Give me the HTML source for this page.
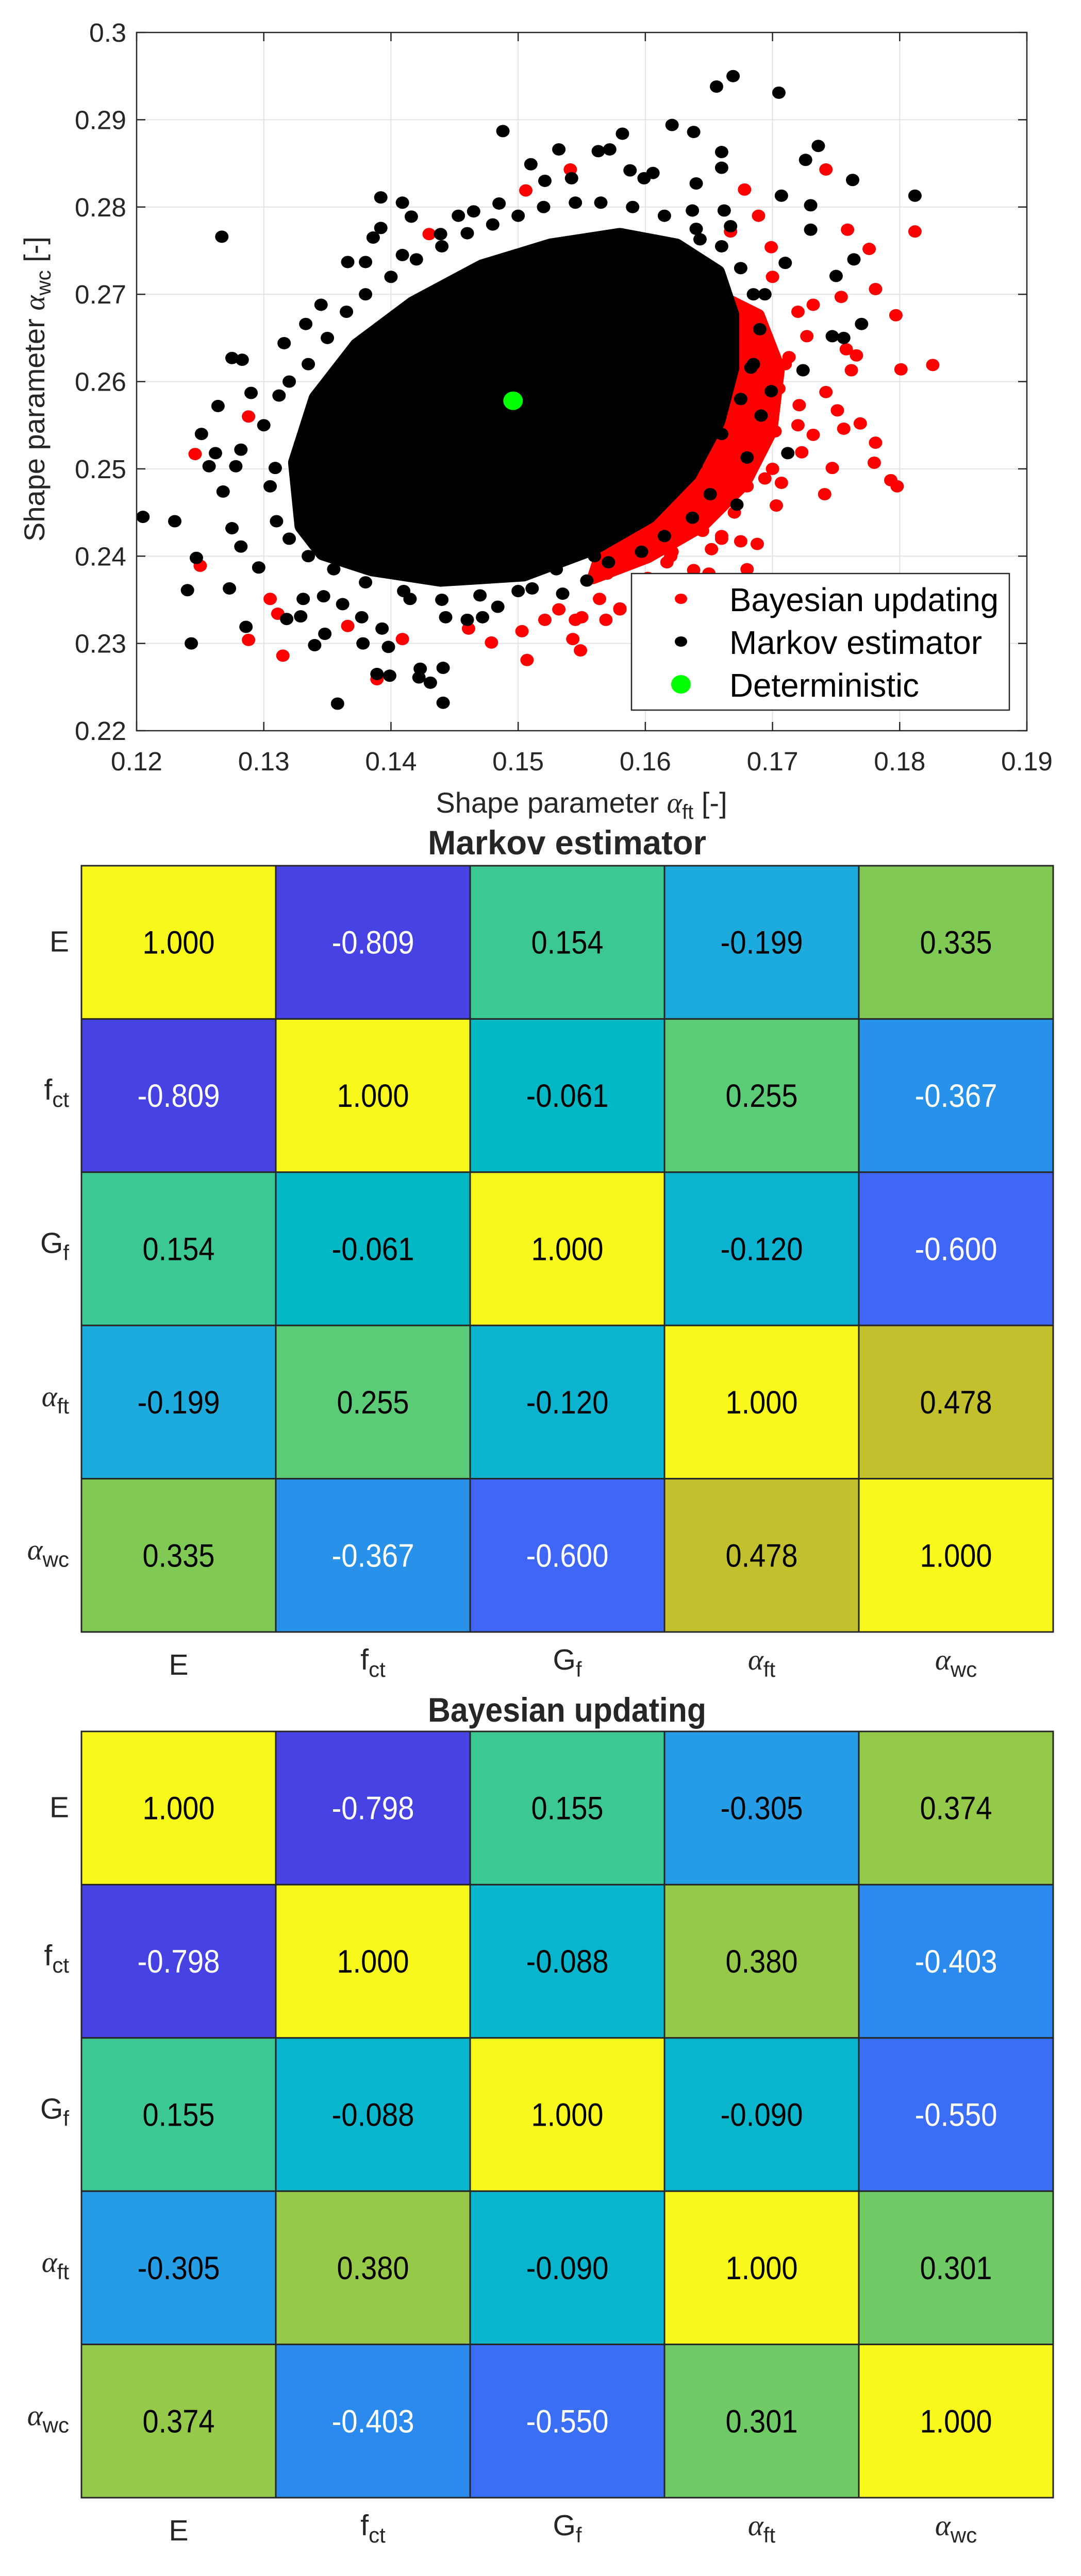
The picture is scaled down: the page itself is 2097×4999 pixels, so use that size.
<!DOCTYPE html>
<html><head><meta charset="utf-8"><style>
html,body{margin:0;padding:0;background:#fff;}
svg{display:block;font-family:"Liberation Sans",sans-serif;}
</style></head><body>
<svg id="fig" width="2097" height="4999" viewBox="0 0 2097 4999" xmlns="http://www.w3.org/2000/svg">
<rect width="2097" height="4999" fill="#fff"/>
<g id="scatter"></g>
<g id="hm1"></g>
<g id="hm2"></g>
</svg>
<script>
const NS="http://www.w3.org/2000/svg";
// ---------- scatter data ----------
const xTicks=[0.12,0.13,0.14,0.15,0.16,0.17,0.18,0.19];
const xTickLabels=["0.12","0.13","0.14","0.15","0.16","0.17","0.18","0.19"];
const yTicks=[0.22,0.23,0.24,0.25,0.26,0.27,0.28,0.29,0.30];
const yTickLabels=["0.22","0.23","0.24","0.25","0.26","0.27","0.28","0.29","0.3"];
const redCoreX=[0.1656,0.1689,0.1705,0.1699,0.1678,0.1645,0.1602,0.1559,0.1600];
const redCoreY=[0.2700,0.2676,0.2616,0.2543,0.2483,0.2435,0.2399,0.2375,0.2560];
const blackCoreX=[0.1331,0.1326,0.1342,0.1374,0.1418,0.1472,0.1526,0.1580,0.1624,0.1656,0.1667,0.1667,0.1656,0.1634,0.1602,0.1559,0.1504,0.1439,0.1385,0.1347];
const blackCoreY=[0.2435,0.2507,0.2580,0.2640,0.2688,0.2730,0.2754,0.2766,0.2754,0.2724,0.2676,0.2616,0.2555,0.2495,0.2447,0.2411,0.2381,0.2375,0.2387,0.2405];
const bayesX=[0.1246,0.1250,0.1288,0.1288,0.1315,0.1305,0.1311,0.1366,0.1389,0.1409,0.1430,0.1479,0.1507,0.1503,0.1543,0.1549,0.1545,0.1564,0.1580,0.1602,0.1638,0.1680,0.1688,0.1675,0.1660,0.1652,0.1645,0.1621,0.1626,0.1703,0.1741,0.1747,0.1780,0.1793,0.1798,0.1781,0.1769,0.1756,0.1732,0.1723,0.1707,0.1694,0.1689,0.1702,0.1721,0.1751,0.1742,0.1762,0.1766,0.1758,0.1801,0.1826,0.1797,0.1781,0.1776,0.1759,0.1812,0.1742,0.1754,0.1732,0.1727,0.1713,0.1705,0.1683,0.1667,0.1659,0.1645,0.1678,0.1667,0.1689,0.1699,0.1541,0.1506,0.1617,0.1607,0.1569,0.1532,0.1521,0.1461,0.162,0.165,0.160,0.158,0.167,0.170,0.172,0.171,0.172,0.170,0.166,0.168,0.163,0.155,0.157];
const bayesY=[0.2517,0.2389,0.2560,0.2304,0.2286,0.2351,0.2334,0.2320,0.2259,0.2305,0.2769,0.2301,0.2281,0.2314,0.2305,0.2292,0.2327,0.2351,0.2339,0.2375,0.2384,0.2385,0.2414,0.2417,0.2423,0.2408,0.2429,0.2405,0.2435,0.2458,0.2471,0.2501,0.2507,0.2487,0.2480,0.2530,0.2552,0.2546,0.2539,0.2519,0.2484,0.2489,0.2525,0.2543,0.2573,0.2567,0.2588,0.2613,0.2630,0.2637,0.2614,0.2619,0.2676,0.2706,0.2752,0.2774,0.2772,0.2843,0.2697,0.2688,0.2652,0.2628,0.2592,0.2567,0.2543,0.2507,0.2483,0.2820,0.2772,0.2790,0.2754,0.2843,0.2819,0.2393,0.2363,0.2327,0.2339,0.2327,0.2317,0.240,0.238,0.236,0.234,0.245,0.250,0.255,0.262,0.268,0.272,0.242,0.248,0.236,0.233,0.238];
const markovX=[0.1205,0.1230,0.1243,0.1240,0.1247,0.1267,0.1264,0.1251,0.1257,0.1262,0.1268,0.1275,0.1283,0.1290,0.1282,0.1278,0.1275,0.1273,0.1286,0.1282,0.1296,0.1316,0.1312,0.1309,0.1318,0.1329,0.1340,0.1348,0.1358,0.1389,0.1399,0.1398,0.1378,0.1423,0.1431,0.1441,0.1441,0.1422,0.1366,0.1380,0.1392,0.1392,0.1409,0.1416,0.1409,0.1386,0.1345,0.1333,0.1488,0.1510,0.1532,0.1563,0.1572,0.1582,0.1621,0.1638,0.1656,0.1669,0.1705,0.1736,0.1726,0.1763,0.1812,0.1707,0.1730,0.1730,0.1764,0.1750,0.1770,0.1756,0.1747,0.1724,0.1712,0.1691,0.1699,0.1680,0.1672,0.1651,0.1637,0.1615,0.1597,0.1571,0.1554,0.1535,0.1511,0.1484,0.1472,0.1460,0.1443,0.1415,0.1393,0.1377,0.1362,0.1347,0.1331,0.1662,0.1683,0.1694,0.1710,0.1667,0.1637,0.1662,0.1643,0.1606,0.1599,0.1588,0.1542,0.1521,0.1485,0.1465,0.1453,0.1439,0.1640,0.1660,0.1660,0.1300,0.1305,0.1310,0.1320,0.1335,0.1350,0.1365,0.1380,0.1400,0.1420,0.1440,0.1460,0.1480,0.1500,0.1520,0.1545,0.1565,0.1590,0.1615,0.1640,0.1660,0.1675,0.1685,0.1690,0.1685,0.1675,0.1660,0.1640,0.1620,0.1590,0.1560,0.1530,0.1500,0.1470,0.1440,0.1410,0.1380,0.1355,0.1335,0.1320];
const markovY=[0.2445,0.2440,0.2300,0.2361,0.2398,0.2766,0.2572,0.2540,0.2503,0.2518,0.2474,0.2627,0.2625,0.2587,0.2522,0.2503,0.2432,0.2363,0.2319,0.2411,0.2387,0.2644,0.2584,0.2501,0.2328,0.2331,0.2298,0.2311,0.2231,0.2265,0.2263,0.2296,0.2300,0.2271,0.2255,0.2232,0.2272,0.2261,0.2737,0.2737,0.2776,0.2811,0.2805,0.2789,0.2745,0.2765,0.2688,0.2666,0.2887,0.2849,0.2866,0.2864,0.2866,0.2884,0.2894,0.2886,0.2938,0.2950,0.2931,0.2870,0.2854,0.2831,0.2813,0.2813,0.2802,0.2774,0.2740,0.2721,0.2666,0.2650,0.2652,0.2613,0.2518,0.2561,0.2589,0.2513,0.2459,0.2471,0.2444,0.2423,0.2405,0.2393,0.2372,0.2357,0.2363,0.2342,0.2330,0.2327,0.2330,0.2351,0.2317,0.2330,0.2345,0.2354,0.2351,0.2640,0.2616,0.2700,0.2736,0.2778,0.2796,0.2796,0.2763,0.2839,0.2833,0.2842,0.2833,0.2830,0.2804,0.2795,0.2790,0.2769,0.2827,0.2845,0.2863,0.2550,0.2480,0.2440,0.2600,0.2620,0.2650,0.2680,0.2700,0.2720,0.2740,0.2755,0.2770,0.2780,0.2790,0.2800,0.2805,0.2805,0.2800,0.2790,0.2775,0.2755,0.2730,0.2700,0.2660,0.2620,0.2580,0.2540,0.2505,0.2470,0.2440,0.2400,0.2385,0.2360,0.2355,0.2350,0.2360,0.2370,0.2385,0.2400,0.2420];
const detX=[0.1496];
const detY=[0.2578];
// ---------- heatmap data ----------
const hmLabels=["E","f|ct","G|f","α|ft","α|wc"];
const markovCorr=[
 [1.000,-0.809,0.154,-0.199,0.335],
 [-0.809,1.000,-0.061,0.255,-0.367],
 [0.154,-0.061,1.000,-0.120,-0.600],
 [-0.199,0.255,-0.120,1.000,0.478],
 [0.335,-0.367,-0.600,0.478,1.000]];
const bayesCorr=[
 [1.000,-0.798,0.155,-0.305,0.374],
 [-0.798,1.000,-0.088,0.380,-0.403],
 [0.155,-0.088,1.000,-0.090,-0.550],
 [-0.305,0.380,-0.090,1.000,0.301],
 [0.374,-0.403,-0.550,0.301,1.000]];

function el(tag,attrs,parent,txt){const e=document.createElementNS(NS,tag);for(const k in attrs)e.setAttribute(k,attrs[k]);if(txt!==undefined)e.textContent=txt;parent.appendChild(e);return e;}

// ---------- scatter ----------
(function(){
const g=document.getElementById('scatter');
const L=265,R=1992,T=63,B=1418;
const sx=v=>L+(v-0.12)/0.07*(R-L);
const sy=v=>B-(v-0.22)/0.08*(B-T);
xTicks.forEach((t,i)=>{const x=sx(t);
 const gl=el('line',{x1:x,x2:x,y1:T,y2:B,stroke:'#e3e3e3','stroke-width':2},g);
 
 const lb=el('text',{x:x,y:1495,'font-size':51,'text-anchor':'middle',fill:'#262626',textLength:100,lengthAdjust:'spacingAndGlyphs'},g,xTickLabels[i]);
 });
yTicks.forEach((t,i)=>{const y=sy(t);
 const gl=el('line',{x1:L,x2:R,y1:y,y2:y,stroke:'#e3e3e3','stroke-width':2},g);
 
 const lb=el('text',{x:245,y:y+18,'font-size':51,'text-anchor':'end',fill:'#262626',textLength:yTickLabels[i].length>3?100:72,lengthAdjust:'spacingAndGlyphs'},g,yTickLabels[i]);
 });
const pts=(xs,ys)=>xs.map((v,i)=>sx(v)+','+sy(ys[i])).join(' ');
const rc=el('polygon',{points:pts(redCoreX,redCoreY),fill:'#ff0000',stroke:'#ff0000','stroke-width':24,'stroke-linejoin':'round'},g);

bayesX.forEach((v,i)=>{const c=el('ellipse',{cx:sx(v),cy:sy(bayesY[i]),rx:13,ry:12,fill:'#ff0000'},g);
 });
const bc=el('polygon',{points:pts(blackCoreX,blackCoreY),fill:'#000',stroke:'#000','stroke-width':34,'stroke-linejoin':'round'},g);

markovX.forEach((v,i)=>{const c=el('ellipse',{cx:sx(v),cy:sy(markovY[i]),rx:13,ry:12,fill:'#000'},g);
 });
detX.forEach((v,i)=>{const c=el('ellipse',{cx:sx(v),cy:sy(detY[i]),rx:19,ry:18,fill:'#00ff00'},g);
 });
const ax=el('rect',{x:L,y:T,width:R-L,height:B-T,fill:'none',stroke:'#262626','stroke-width':2.5},g);

xTicks.forEach(t=>{const x=sx(t);el('line',{x1:x,x2:x,y1:B,y2:B-17,stroke:'#262626','stroke-width':2.5},g);el('line',{x1:x,x2:x,y1:T,y2:T+17,stroke:'#262626','stroke-width':2.5},g);});
yTicks.forEach(t=>{const y=sy(t);el('line',{x1:L,x2:L+17,y1:y,y2:y,stroke:'#262626','stroke-width':2.5},g);el('line',{x1:R,x2:R-17,y1:y,y2:y,stroke:'#262626','stroke-width':2.5},g);});
const xl=el('text',{x:1128,y:1577,'font-size':56,'text-anchor':'middle',fill:'#262626'},g);

xl.innerHTML='Shape parameter <tspan font-family="Liberation Serif" font-style="italic">α</tspan><tspan font-size="40" dy="12">ft</tspan><tspan dy="-12"> [-]</tspan>';
const yl=el('text',{x:0,y:0,'font-size':56,'text-anchor':'middle',fill:'#262626',transform:'translate(86,755) rotate(-90)'},g);

yl.innerHTML='Shape parameter <tspan font-family="Liberation Serif" font-style="italic">α</tspan><tspan font-size="40" dy="12">wc</tspan><tspan dy="-12"> [-]</tspan>';
const lg=el('g',{},g);
el('rect',{x:1225,y:1113,width:733,height:265,fill:'#fff',stroke:'#262626','stroke-width':2.5},lg);
const entries=[['Bayesian updating','#ff0000',12,10,522],['Markov estimator','#000',12,10,490],['Deterministic','#00ff00',19,18,368]];
entries.forEach((e,i)=>{const cy=1162+i*83;
 const it=el('g',{},lg);
 el('ellipse',{cx:1321,cy:cy,rx:e[2],ry:e[3],fill:e[1]},it);
 el('text',{x:1415,y:cy+24,'font-size':64,fill:'#000',textLength:e[4],lengthAdjust:'spacingAndGlyphs'},it,e[0]);});
})();

// ---------- heatmaps ----------
const cmapT=[0,0.115,0.22,0.274,0.337,0.381,0.414,0.532,0.588,0.632,0.652,0.711,0.85,1];
const cmapC=["#4742e3","#4066f8","#2b8aee","#259ce6","#1daadd","#0bb3d1","#02b8c5","#3cc894","#5bcb77","#80c955","#95c94a","#c2c02c","#e6d52a","#f8f91a"];
function hex(h){return[parseInt(h.slice(1,3),16),parseInt(h.slice(3,5),16),parseInt(h.slice(5,7),16)];}
function cmap(t){t=Math.max(0,Math.min(1,t));for(let i=1;i<cmapT.length;i++){if(t<=cmapT[i]){const f=(t-cmapT[i-1])/(cmapT[i]-cmapT[i-1]);const a=hex(cmapC[i-1]),b=hex(cmapC[i]);return 'rgb('+a.map((v,k)=>Math.round(v+(b[k]-v)*f)).join(',')+')';}}return cmapC[cmapC.length-1];}
function labelTspans(t,lab){const p=lab.split('|');
 if(p[0]==='α'){t.innerHTML='<tspan font-family="Liberation Serif" font-style="italic">α</tspan><tspan font-size="42" dy="14">'+p[1]+'</tspan>';}
 else if(p.length>1){t.innerHTML=p[0]+'<tspan font-size="42" dy="14">'+p[1]+'</tspan>';}
 else t.textContent=p[0];}
function heatmap(gid,mat,title,top,titleY,colLabY){
 const g=document.getElementById(gid);
 const L=158,R=2043,H=1487,cw=(R-L)/5,ch=H/5;
 const flat=mat.flat();const mn=Math.min(...flat),mx=Math.max(...flat);
 const tt=el('text',{x:1100,y:titleY+22,'font-size':66,'font-weight':'bold','text-anchor':'middle',fill:'#262626',textLength:540,lengthAdjust:'spacingAndGlyphs'},g,title);
 
 mat.forEach((row,r)=>row.forEach((v,c)=>{
  const t=(v-mn)/(mx-mn);
  const cell=el('rect',{x:L+c*cw,y:top+r*ch,width:cw,height:ch,fill:cmap(t),stroke:'#262626','stroke-width':3},g);
  
  const tx=el('text',{x:L+c*cw+cw/2,y:top+r*ch+ch/2+22,'font-size':63,'text-anchor':'middle',fill:t<0.25?'#fff':'#000',textLength:v<0?160:140,lengthAdjust:'spacingAndGlyphs'},g,v.toFixed(3));
  
 }));
 hmLabels.forEach((lab,i)=>{
  const rl=el('text',{x:134,y:top+i*ch+ch/2+18,'font-size':57,'text-anchor':'end',fill:'#262626'},g);
  labelTspans(rl,lab);if(lab.includes('|'))rl.setAttribute('y',top+i*ch+ch/2+8);
  
  const cl=el('text',{x:L+i*cw+cw/2,y:colLabY+(lab.includes('|')?8:18),'font-size':57,'text-anchor':'middle',fill:'#262626'},g);
  labelTspans(cl,lab);
  
 });
}
heatmap('hm1',markovCorr,'Markov estimator',1680,1636,3232);
heatmap('hm2',bayesCorr,'Bayesian updating',3360,3319,4912);
</script>
</body></html>
